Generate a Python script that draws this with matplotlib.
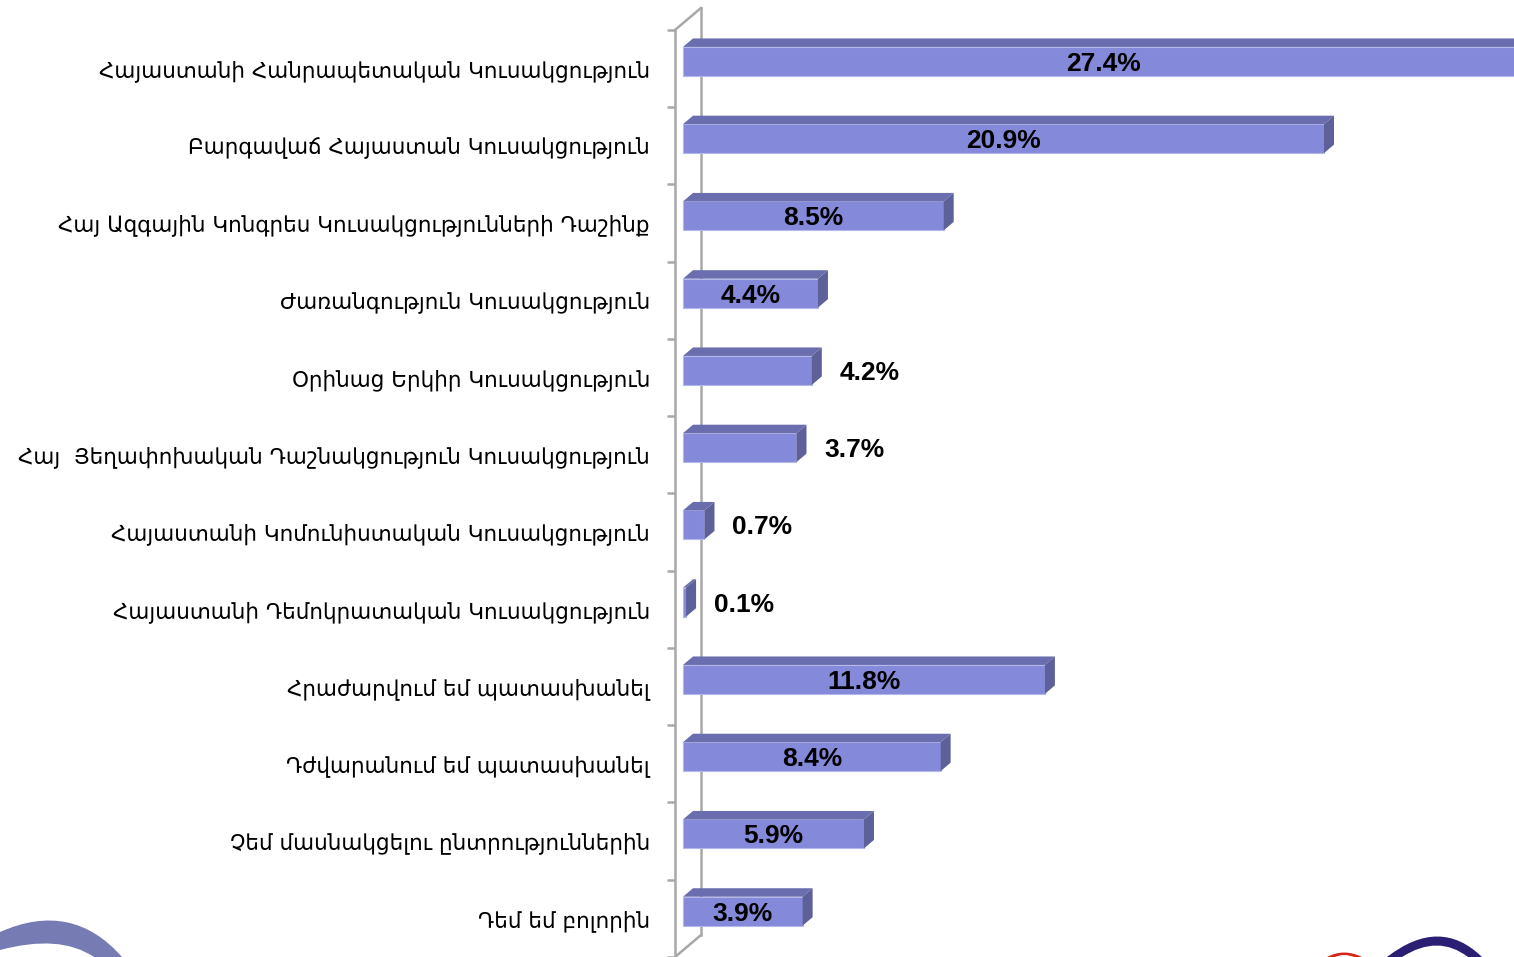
import numpy as np
import matplotlib
matplotlib.use("Agg")
import matplotlib.pyplot as plt
from matplotlib.patches import Polygon, PathPatch
from matplotlib.path import Path
from matplotlib.transforms import IdentityTransform

# Data (percent)
parties = [
    "Հայաստանի Հանրապետական Կուսակցություն",
    "Բարգավաճ Հայաստան Կուսակցություն",
    "Հայ Ազգային Կոնգրես Կուսակցությունների Դաշինք",
    "Ժառանգություն Կուսակցություն",
    "Օրինաց Երկիր Կուսակցություն",
    "Հայ  Յեղափոխական Դաշնակցություն Կուսակցություն",
    "Հայաստանի Կոմունիստական Կուսակցություն",
    "Հայաստանի Դեմոկրատական Կուսակցություն",
    "Հրաժարվում եմ պատասխանել",
    "Դժվարանում եմ պատասխանել",
    "Չեմ մասնակցելու ընտրություններին",
    "Դեմ եմ բոլորին",
]
shares = [27.4, 20.9, 8.5, 4.4, 4.2, 3.7, 0.7, 0.1, 11.8, 8.4, 5.9, 3.9]

# bars whose label sits to the right of the bar
outside_labels = {4, 5, 6, 7}

W, H = 1514, 957
front_col = "#8489d9"
top_col = "#6a6eae"
side_col = "#5e6199"
wall_col = "#a8a8a8"

PX = 30.67      # pixels per percent
ROW = 77.4      # pixels per category row

fig = plt.figure(figsize=(W / 100, H / 100), dpi=100)
ax = fig.add_axes([600 / W, 0, 914 / W, 1])
ax.set_xlim(-83 / PX, 831 / PX)
ax.set_ylim((H - 68.7) / ROW, -68.7 / ROW)

pos = np.arange(len(parties))
bar_h = 29 / ROW
bar_off = -7.2 / ROW
ddx, ddy = 10 / PX, 8.5 / ROW
txt_off = 2.5 / ROW

ax.barh(pos + bar_off, shares, height=bar_h, color=front_col,
        edgecolor="#b4b7ea", linewidth=0.8, zorder=3)
for i, v in enumerate(shares):
    yt = i + bar_off - bar_h / 2
    yb = i + bar_off + bar_h / 2
    ax.add_patch(Polygon([(0, yt), (v, yt), (v + ddx, yt - ddy), (ddx, yt - ddy)],
                         closed=True, facecolor=top_col, edgecolor="none", zorder=3))
    ax.add_patch(Polygon([(v, yt), (v + ddx, yt - ddy), (v + ddx, yb - ddy), (v, yb)],
                         closed=True, facecolor=side_col, edgecolor="none", zorder=3))
    label = f"{v}%"
    if i in outside_labels:
        ax.annotate(label, (v, i + bar_off + txt_off), xytext=(20, 0),
                    textcoords="offset points", ha="left", va="center", fontsize=19,
                    fontweight="bold", family="Liberation Sans", zorder=5)
    else:
        ax.text(v / 2, i + bar_off + txt_off, label, ha="center", va="center",
                fontsize=19, fontweight="bold", family="Liberation Sans", zorder=5)

# 3-D wall
xw = -8 / PX
wdx, wdy = 26 / PX, 22 / ROW
top_y, bot_y = -0.5, len(parties) - 0.5
ax.plot([xw + wdx, xw + wdx], [top_y - wdy, bot_y - wdy], color=wall_col, lw=1.8, zorder=1)
ax.plot([xw, xw + wdx], [top_y, top_y - wdy], color=wall_col, lw=1.8, zorder=1)
ax.plot([xw, xw + wdx], [bot_y, bot_y - wdy], color=wall_col, lw=1.8, zorder=1)

for s in ["top", "right", "bottom"]:
    ax.spines[s].set_visible(False)
ax.spines["left"].set_position(("data", xw))
ax.spines["left"].set_color(wall_col)
ax.spines["left"].set_linewidth(1.8)
ax.spines["left"].set_bounds(top_y, bot_y)
ax.set_xticks([])
ax.set_yticks(pos)
ax.set_yticklabels(parties, family="DejaVu Sans", fontsize=15.5)
ax.set_yticks(np.arange(top_y, bot_y + 1), minor=True)
ax.tick_params(axis="y", which="major", length=0, pad=18)
ax.tick_params(axis="y", which="minor", length=5.8, width=1.8, color=wall_col)
ax.patch.set_alpha(0)

# logo swooshes in the corners
def swoosh(pts, color):
    verts = [(x, H - y) for x, y in pts]
    codes = [Path.MOVETO, Path.CURVE3, Path.CURVE3, Path.LINETO,
             Path.CURVE3, Path.CURVE3, Path.CLOSEPOLY]
    fig.add_artist(PathPatch(Path(verts + [verts[0]], codes), facecolor=color,
                             edgecolor="none", transform=IdentityTransform()))

swoosh([(0, 932), (72, 900), (122, 957), (94, 957), (60, 934), (0, 950)], "#767bb3")
swoosh([(1327, 957), (1344, 948), (1362, 957), (1354, 957), (1344, 953), (1335, 957)], "#d9261c")
swoosh([(1387, 957), (1440, 916), (1482, 957), (1468, 957), (1438, 934), (1402, 957)], "#2a1f73")

fig.savefig("out.png", dpi=100)
